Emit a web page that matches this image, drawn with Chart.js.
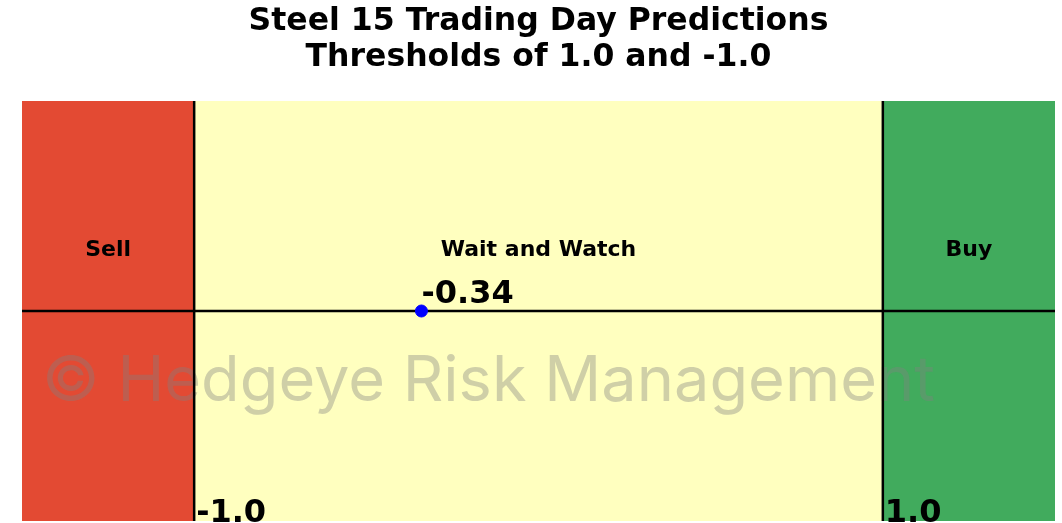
<!DOCTYPE html>
<html>
<head>
<meta charset="utf-8">
<script src="https://cdn.jsdelivr.net/npm/chart.js@4/dist/chart.umd.min.js"></script>
<style>
  html, body { margin: 0; padding: 0; background: #fff; }
  canvas { display: block; }
</style>
</head>
<body>
<canvas id="chart" width="1062" height="523"></canvas>
<script>
// signal bands and the current reading
const zoneNames = ["Sell", "Wait and Watch", "Buy"];
const zoneEdges = [-1.5, -1.0, 1.0, 1.5];
const thresholds = [-1.0, 1.0];
const thresholdLabels = ["-1.0", "1.0"];
const prediction = -0.34;
const predictionLabel = "-0.34";
const titleLines = ["Steel 15 Trading Day Predictions", "Thresholds of 1.0 and -1.0"];

const zoneColors = ["#e34a33", "#ffffbf", "#41ab5d"];
const labelY = 0.29;
const FONT = '"DejaVu Sans", sans-serif';

const bandsPlugin = {
  id: "bands",
  beforeDatasetsDraw(chart) {
    const { ctx, chartArea: a, scales: { x, y } } = chart;
    ctx.save();
    for (let i = 0; i < zoneNames.length; i++) {
      const x0 = x.getPixelForValue(zoneEdges[i]);
      const x1 = x.getPixelForValue(zoneEdges[i + 1]);
      ctx.fillStyle = zoneColors[i];
      ctx.fillRect(x0, a.top, x1 - x0, a.bottom - a.top);
    }
    // watermark, sized to span most of the plot
    const mark = "\u00a9 Hedgeye Risk Management";
    ctx.font = '60px Inter, sans-serif';
    const size = 60 * 893 / ctx.measureText(mark).width;
    ctx.font = size.toFixed(1) + 'px Inter, sans-serif';
    ctx.fillStyle = "rgba(128,128,128,0.38)";
    ctx.textAlign = "left";
    ctx.textBaseline = "middle";
    ctx.fillText(mark, a.left + 20, y.getPixelForValue(-0.34));
    ctx.restore();
  },
  afterDatasetsDraw(chart) {
    const { ctx, scales: { x, y } } = chart;
    ctx.save();
    ctx.fillStyle = "#000";
    ctx.textAlign = "center";
    ctx.textBaseline = "middle";
    ctx.font = "bold 22px " + FONT;
    for (let i = 0; i < zoneNames.length; i++) {
      const cx = (x.getPixelForValue(zoneEdges[i]) + x.getPixelForValue(zoneEdges[i + 1])) / 2;
      ctx.fillText(zoneNames[i], cx, y.getPixelForValue(labelY));
    }
    ctx.textAlign = "left";
    ctx.textBaseline = "alphabetic";
    ctx.font = "bold 32px " + FONT;
    ctx.fillText(predictionLabel, x.getPixelForValue(prediction), y.getPixelForValue(0) - 8);
    thresholds.forEach((t, i) => {
      ctx.fillText(thresholdLabels[i], x.getPixelForValue(t) + 2, y.getPixelForValue(-1) + 1);
    });
    ctx.restore();
  },
  afterDraw(chart) {
    const { ctx, chartArea: a } = chart;
    ctx.save();
    ctx.fillStyle = "#000";
    ctx.textAlign = "center";
    ctx.textBaseline = "middle";
    ctx.font = "bold 31.5px " + FONT;
    const cx = (a.left + a.right) / 2;
    titleLines.forEach((line, i) => ctx.fillText(line, cx, 22 + i * 36));
    ctx.restore();
  }
};

const lineStyle = { type: "line", borderColor: "#000", borderWidth: 2.5, pointRadius: 0, fill: false };

new Chart(document.getElementById("chart"), {
  type: "scatter",
  data: {
    datasets: [
      {
        data: [{ x: prediction, y: 0 }],
        backgroundColor: "#0000ff",
        borderColor: "#0000ff",
        pointRadius: 6
      },
      { ...lineStyle, data: [{ x: zoneEdges[0], y: 0 }, { x: zoneEdges[3], y: 0 }] },
      ...thresholds.map(t => ({ ...lineStyle, data: [{ x: t, y: -1 }, { x: t, y: 1 }] }))
    ]
  },
  options: {
    responsive: false,
    animation: false,
    devicePixelRatio: 1,
    layout: { autoPadding: false, padding: { left: 22, right: 7, top: 101, bottom: 2 } },
    scales: {
      x: { type: "linear", min: zoneEdges[0], max: zoneEdges[3], display: false },
      y: { type: "linear", min: -1, max: 1, display: false }
    },
    plugins: { legend: { display: false }, tooltip: { enabled: false }, title: { display: false } }
  },
  plugins: [bandsPlugin]
});
</script>
</body>
</html>
